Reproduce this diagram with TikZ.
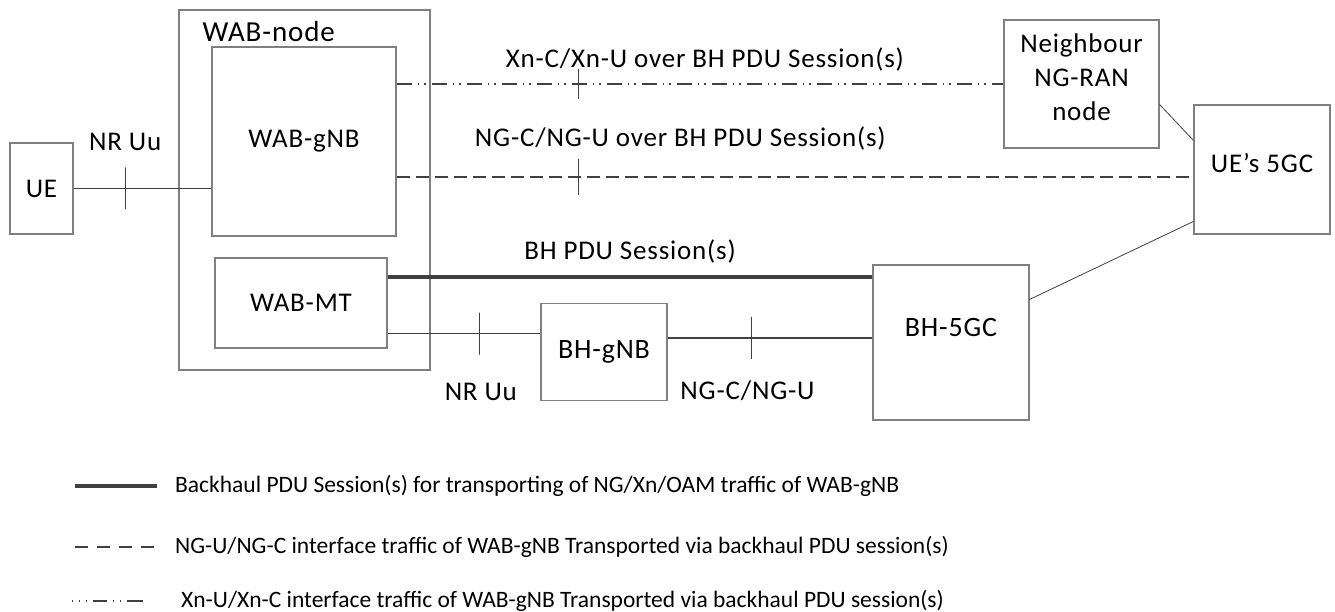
\documentclass[tikz,border=0pt]{standalone}
\usepackage{fontspec}
\setmainfont{Carlito}
\usetikzlibrary{shapes,arrows,positioning,calc}

\definecolor{bordacinza}{HTML}{808080}
\definecolor{linhacinza}{HTML}{404040}
\newcommand{\fonterot}[1]{\fontsize{#1}{34}\selectfont\addfontfeature{LetterSpace=3}}

\begin{document}
\begin{tikzpicture}[x=1pt, y=-1pt,
    caixa/.style={draw=bordacinza, line width=1.1pt, inner sep=0pt, font=\fonterot{27}},
    liga/.style={draw=linhacinza, line width=1.2pt},
    corte/.style={draw=linhacinza, solid, line width=1.1pt, minimum width=0pt, minimum height=42pt, inner sep=0pt, outer sep=0pt},
    rotulo/.style={font=\fonterot{27}, inner sep=0pt, text=black},
    legenda/.style={font=\fontsize{23.5}{28}\selectfont, anchor=west, inner sep=0pt},
    tracodois/.style={dash pattern=on 15pt off 6pt on 1.5pt off 5pt on 1.5pt off 6pt},
    tracejado/.style={dash pattern=on 13pt off 6pt}]
                    \useasboundingbox (0,0) rectangle (1335,612);

                    % Caixas
                    \node[caixa, minimum width=63pt, minimum height=91pt] (ue) at (41.5,188.5) {UE};
                    \node[caixa, minimum width=251pt, minimum height=360pt] (wab) at (304.5,190) {};
                    \node[rotulo, font=\fonterot{29}, anchor=west] (wablbl) at ($(wab.north west)+(24,22)$) {WAB-node};
                    \node[caixa, minimum width=184pt, minimum height=189pt] (gnb) at (304,141.5) {WAB-gNB};
                    \node[caixa, minimum width=172pt, minimum height=90pt] (mt) at (301,303) {WAB-MT};
                    \node[caixa, minimum width=126pt, minimum height=97pt, font=\fonterot{28}] (bhgnb) at (604,352) {BH-gNB};
                    \node[caixa, minimum width=156pt, minimum height=155pt,
                          label={[rotulo, font=\fonterot{28}, yshift=15pt]center:BH-5GC}] (bhcore) at (951,342.5) {};
                    \node[caixa, minimum width=155pt, minimum height=128pt,
                          label={[rotulo, align=center, yshift=7pt]center:Neighbour\\NG-RAN\\node}] (nbr) at (1081.5,84) {};
                    \node[caixa, minimum width=136pt, minimum height=129pt,
                          label={[rotulo, yshift=6.5pt]center:UE’s 5GC}] (uecore) at (1262,169.5) {};

                    % Ligacoes
                    \draw[liga] (ue.east) -- node[corte, pos=.374] {} node[rotulo, pos=.374, yshift=47pt] {NR Uu} (ue.east -| gnb.west);
                    \draw[liga, tracodois] (gnb.east |- nbr.west) -- node[corte, pos=.30, minimum height=30pt] {} node[rotulo, pos=.508, yshift=24pt] {Xn-C/Xn-U over BH PDU Session(s)} (nbr.west);
                    \coordinate (ngfim) at ($(uecore.west)+(0,7.5)$);
                    \draw[liga, tracejado] (gnb.east |- ngfim) -- node[corte, pos=.228, minimum height=36pt] {} node[rotulo, pos=.356, yshift=39pt] {NG-C/NG-U over BH PDU Session(s)} (ngfim);
                    \coordinate (bhpdu) at ($(mt.north east)+(0,19.5)$);
                    \draw[draw=linhacinza, line width=4.5pt] (bhpdu) -- node[rotulo, midway, yshift=25pt] {BH PDU Session(s)} (bhpdu -| bhcore.west);
                    \coordinate (mtuu) at ($(mt.south east)+(0,-15)$);
                    \draw[liga] (mtuu) -- node[corte, pos=.60] {} node[rotulo, pos=.61, yshift=-58pt] {NR Uu} (mtuu -| bhgnb.west);
                    \coordinate (ngbh) at ($(bhgnb.north east)+(0,35)$);
                    \draw[liga] (ngbh) -- node[corte, pos=.41] {} node[rotulo, pos=.39, yshift=-53pt] {NG-C/NG-U} (ngbh -| bhcore.west);
                    \draw[draw=linhacinza, line width=0.8pt] ($(nbr.north east)+(0,85)$) -- ($(uecore.north west)+(0,36)$);
                    \draw[draw=linhacinza, line width=0.8pt] ($(bhcore.north east)+(0,35)$) -- ($(uecore.north west)+(0,117)$);

                    % Legenda
                    \coordinate (lga) at (75,486);
                    \coordinate (lgb) at (157,486);
                    \draw[draw=linhacinza, line width=4.5pt] (lga) -- (lgb);
                    \node[legenda] (lgtxta) at (175,486) {Backhaul PDU Session(s) for transporting of NG/Xn/OAM traffic of WAB-gNB};
                    \coordinate (lgc) at (75,547);
                    \coordinate (lgd) at (155,547);
                    \draw[draw=linhacinza, line width=1.2pt, dash pattern=on 13pt off 9pt] (lgc) -- (lgd);
                    \node[legenda] (lgtxtb) at (175,547) {NG-U/NG-C interface traffic of WAB-gNB Transported via backhaul PDU session(s)};
                    \coordinate (lge) at (72,601);
                    \coordinate (lgf) at (143,601);
                    \draw[draw=linhacinza, line width=1.2pt, dash pattern=on 1pt off 6pt on 1pt off 6pt on 1pt off 6pt on 14pt off 6pt on 1pt off 6pt on 1pt off 6pt on 16pt off 6pt] (lge) -- (lgf);
                    \node[legenda] (lgtxtc) at (181,601) {Xn-U/Xn-C interface traffic of WAB-gNB Transported via backhaul PDU session(s)};
                \end{tikzpicture}
\end{document}
